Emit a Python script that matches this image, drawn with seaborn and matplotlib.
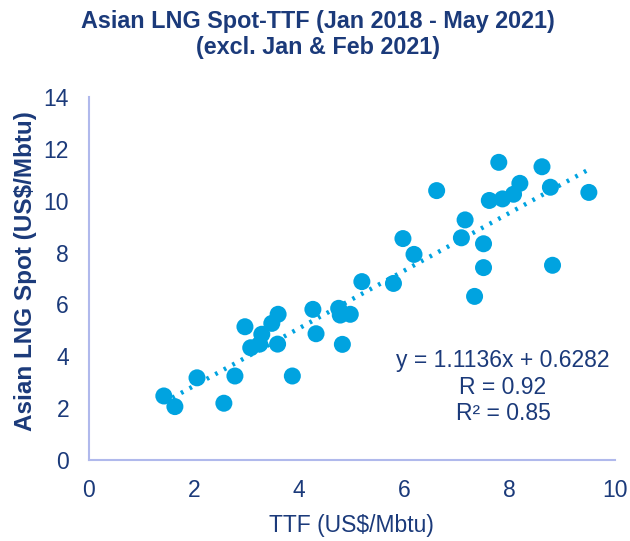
import numpy as np
import pandas as pd
import matplotlib
matplotlib.use("Agg")
import matplotlib.pyplot as plt
import seaborn as sns

# Monatswerte (US$/Mbtu)
ttf = [1.43, 1.64, 2.06, 2.57, 2.78, 2.97, 3.08, 3.29, 3.25, 3.48,
       3.60, 3.59, 3.87, 4.26, 4.32, 4.75, 4.78, 4.97, 4.82, 5.19,
       5.79, 6.18, 5.97, 6.61, 7.08, 7.15, 7.50, 7.50, 7.33, 7.61,
       7.86, 7.79, 8.07, 8.19, 8.61, 8.77, 8.81, 9.50]
lng_spot = [2.47, 2.06, 3.17, 2.19, 3.24, 5.14, 4.33, 4.85, 4.47, 5.27,
            5.62, 4.47, 3.24, 5.81, 4.87, 5.85, 5.59, 5.62, 4.46, 6.88,
            6.81, 7.93, 8.54, 10.39, 8.57, 9.26, 8.34, 7.42, 6.31, 10.01,
            10.07, 11.48, 10.25, 10.67, 11.31, 10.52, 7.51, 10.32]

slope = 1.1136
intercept = 0.6282

navy = "#1B3A7A"
dot_blue = "#00A3E0"
spine_col = "#B0B9EC"

sns.set_style("white")
plt.rcParams['font.family'] = ['Liberation Sans', 'DejaVu Sans']

df = pd.DataFrame({"TTF": ttf, "LNG": lng_spot})

fig = plt.figure(figsize=(6.30, 5.41), dpi=100)
ax = fig.add_axes([0.1405, 0.1497, 0.836, 0.671])

sns.scatterplot(data=df, x="TTF", y="LNG", ax=ax, color=dot_blue,
                s=150, edgecolor="none", linewidth=0, legend=False, zorder=3)

# lineare Trendlinie ueber den Datenbereich
xs = np.array([min(ttf), max(ttf)])
sns.lineplot(x=xs, y=slope * xs + intercept, ax=ax, color=dot_blue,
             linestyle=(0, (0.6, 1.6)), linewidth=3.2, zorder=2)

ax.set_xlim(0, 10)
ax.set_ylim(0, 14)
ax.set_xticks(range(0, 11, 2))
ax.set_yticks(range(0, 15, 2))
ax.tick_params(axis="both", length=0, labelsize=16.5, colors=navy)
ax.tick_params(axis="x", pad=14)
ax.tick_params(axis="y", pad=14)

for s in ["top", "right"]:
    ax.spines[s].set_visible(False)
for s in ["left", "bottom"]:
    ax.spines[s].set_color(spine_col)
    ax.spines[s].set_linewidth(1.5)

ax.set_xlabel("TTF (US$/Mbtu)", fontsize=16.5, color=navy, labelpad=8)
ax.set_ylabel("Asian LNG Spot (US$/Mbtu)", fontsize=17.5, color=navy,
              fontweight="bold")
ax.yaxis.set_label_coords(-0.098, 0.52)

fig.suptitle("Asian LNG Spot-TTF (Jan 2018 - May 2021)\n(excl. Jan & Feb 2021)",
             x=0.505, y=0.982, fontsize=16.8, fontweight="bold", color=navy,
             linespacing=1.2)

ax.text(0.787, 0.201, "y = 1.1136x + 0.6282\nR = 0.92\nR² = 0.85",
        transform=ax.transAxes, ha="center", va="center", fontsize=16.5,
        color=navy, linespacing=1.19)

fig.savefig("out.png", dpi=100)
